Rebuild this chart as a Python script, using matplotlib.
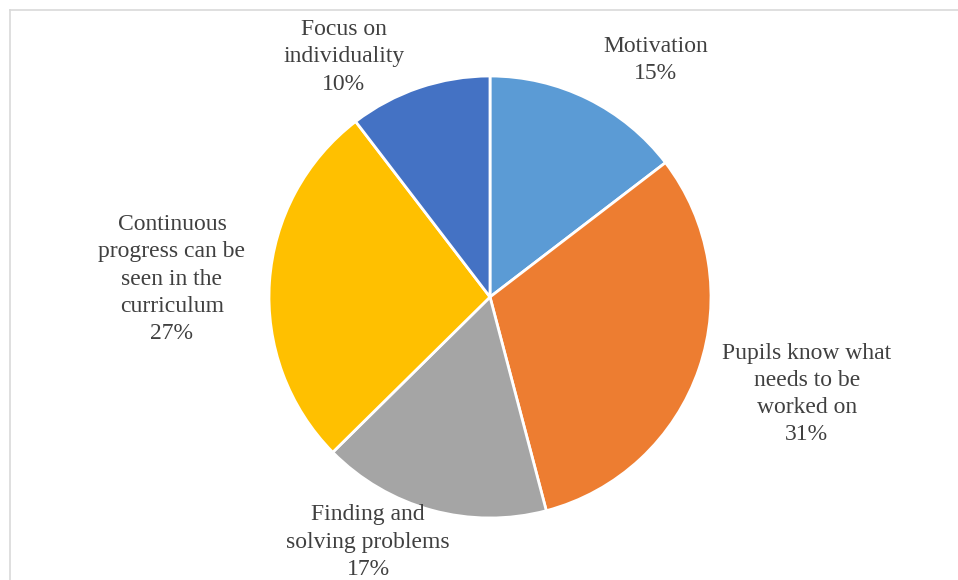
import matplotlib
matplotlib.use("Agg")
import matplotlib.pyplot as plt
from matplotlib.lines import Line2D

categories = ["Motivation", "Pupils know what\nneeds to be\nworked on", "Finding and\nsolving problems",
              "Continuous\nprogress can be\nseen in the\ncurriculum", "Focus on\nindividuality"]
values = [14.6, 31.3, 16.7, 27.0, 10.4]
colors = ["#5B9BD5", "#ED7D31", "#A5A5A5", "#FFC000", "#4472C4"]
# label positions (layout, in axes data units)
label_pos = [(0.751, 1.072), (1.434, -0.439), (-0.552, -1.109), (-1.439, 0.081), (-0.661, 1.086)]

W, H = 958, 580
fig = plt.figure(figsize=(W / 100, H / 100), dpi=100)
cx, cy, r = 490, 297, 221
ax = fig.add_axes([(cx - r) / W, (H - cy - r) / H, 2 * r / W, 2 * r / H])
ax.pie(values, colors=colors, startangle=90, counterclock=False,
       wedgeprops=dict(edgecolor="white", linewidth=2), radius=1)
ax.set_xlim(-1, 1)
ax.set_ylim(-1, 1)
ax.set_aspect("equal")
ax.axis("off")

total = sum(values)
for cat, v, (x, y) in zip(categories, values, label_pos):
    ax.text(x, y, f"{cat}\n{round(100 * v / total):d}%", ha="center", va="center",
            fontsize=17, family="Liberation Serif", color="#404040",
            linespacing=1.39, clip_on=False)

# chart frame
fig.add_artist(Line2D([9.5 / W, 9.5 / W], [0, 1 - 9.5 / H], transform=fig.transFigure,
                      color="#D9D9D9", linewidth=1.2))
fig.add_artist(Line2D([9.5 / W, 1], [1 - 9.5 / H, 1 - 9.5 / H], transform=fig.transFigure,
                      color="#D9D9D9", linewidth=1.2))

fig.savefig("out.png", dpi=100, facecolor="white")
